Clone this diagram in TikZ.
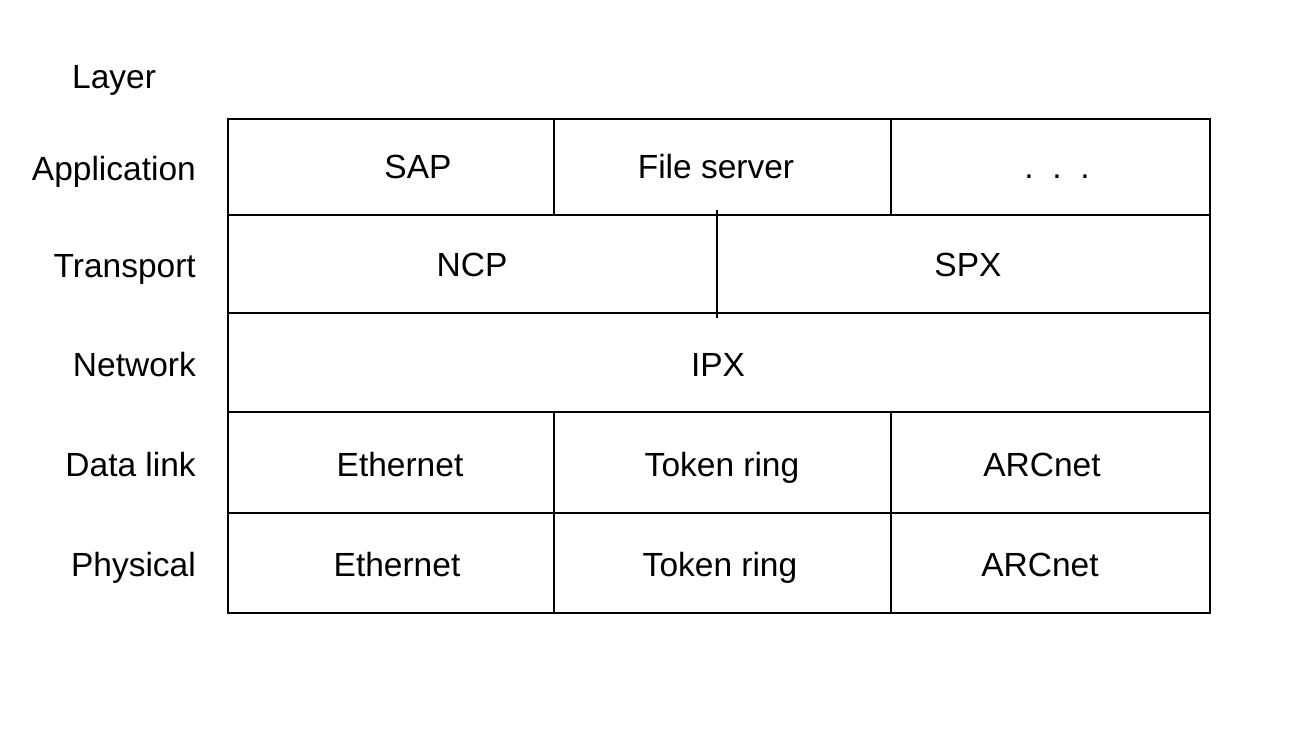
\documentclass[tikz,border=0pt]{standalone}
\usepackage{fontspec}
\setmainfont{Liberation Sans}
\begin{document}
\begin{tikzpicture}[x=1pt,y=-1pt,
  grid/.style={line width=2.4pt,line cap=rect},
  celltext/.style={font=\fontsize{33.5}{38}\selectfont,anchor=base,inner sep=0pt},
  layertext/.style={font=\fontsize{33.5}{38}\selectfont,anchor=base east,inner sep=0pt}]
\useasboundingbox (0,0) rectangle (1296,736);
% table frame
\draw[grid] (228,119) rectangle (1210,613);
\draw[grid] (228,215) -- (1210,215);
\draw[grid] (228,313) -- (1210,313);
\draw[grid] (228,412) -- (1210,412);
\draw[grid] (228,513) -- (1210,513);
\draw[grid] (554,119) -- (554,215);
\draw[grid] (891,119) -- (891,215);
\draw[grid,line cap=butt] (717,210) -- (717,318);
\draw[grid] (554,412) -- (554,613);
\draw[grid] (891,412) -- (891,613);
% layer labels
\node[celltext,anchor=base west] (hdr) at (72,88) {Layer};
\node[layertext] (lapp) at (196,180) {Application};
\node[layertext] (ltra) at (196,277) {Transport};
\node[layertext] (lnet) at (196,376) {Network};
\node[layertext] (ldl) at (196,476) {Data link};
\node[layertext] (lphy) at (196,576) {Physical};
% cells
\node[celltext] (sap) at (418,178) {SAP};
\node[celltext] (fs) at (716,178) {File server};
\node[celltext] (dots) at (1057,178) {.\ \ .\ \ .};
\node[celltext] (ncp) at (472,276) {NCP};
\node[celltext] (spx) at (968,276) {SPX};
\node[celltext] (ipx) at (718,376) {IPX};
\node[celltext] (eth1) at (400,476) {Ethernet};
\node[celltext] (tok1) at (722,476) {Token ring};
\node[celltext] (arc1) at (1042,476) {ARCnet};
\node[celltext] (eth2) at (397,576) {Ethernet};
\node[celltext] (tok2) at (720,576) {Token ring};
\node[celltext] (arc2) at (1040,576) {ARCnet};
\end{tikzpicture}
\end{document}
